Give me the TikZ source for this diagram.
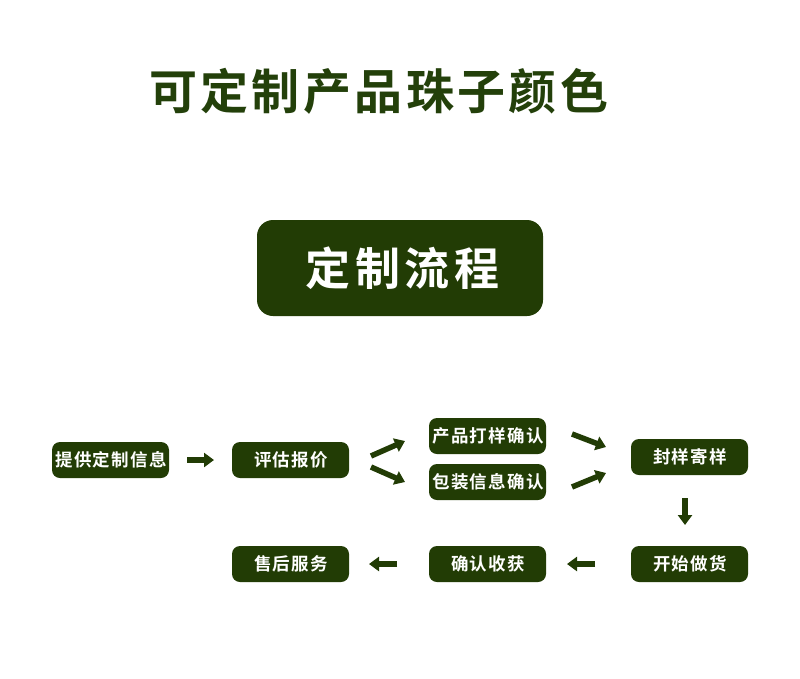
\documentclass[tikz,border=0pt]{standalone}
\usepackage{fontspec}
\newfontfamily\cjktitle[LetterSpace=7]{Noto Sans CJK SC Bold}
\newfontfamily\cjkmain[LetterSpace=11]{Noto Sans CJK SC Bold}
\newfontfamily\cjkbox[LetterSpace=7]{Noto Sans CJK SC Bold}
\usetikzlibrary{arrows.meta}
\definecolor{dgreen}{HTML}{223C05}
\definecolor{tgreen}{HTML}{23400A}
\begin{document}
\begin{tikzpicture}[x=1pt,y=-1pt,
  stepbox/.style={fill=dgreen, rounded corners=8pt, minimum width=117pt, minimum height=36pt, inner sep=0pt, text=white, font=\cjkbox\fontsize{17.5}{20}\selectfont, execute at begin node=\hspace{1.2pt}},
  blockarrow/.style={draw=dgreen, line width=5.5pt, -{Triangle[length=10pt, width=14pt]}}
]
\useasboundingbox (0,0) rectangle (800,678);
\fill[white] (0,0) rectangle (800,678);
\node[text=tgreen, font=\cjktitle\fontsize{48}{54}\selectfont] (title) at (377,91) {\hspace{3.4pt}可定制产品珠子颜色};
\node[fill=dgreen, rounded corners=16pt, minimum width=286pt, minimum height=96pt, inner sep=0pt, text=white, font=\cjkmain\fontsize{45}{50}\selectfont] (flow) at (400,268) {\hspace{5pt}定制流程};

\node[stepbox] (s1) at (110.5,460) {提供定制信息};
\node[stepbox] (s2) at (290.5,460) {评估报价};
\node[stepbox] (s3) at (487.5,436) {产品打样确认};
\node[stepbox] (s4) at (487.5,482) {包装信息确认};
\node[stepbox] (s5) at (689.5,457) {封样寄样};
\node[stepbox] (s6) at (689.5,564) {开始做货};
\node[stepbox] (s7) at (487.5,564) {确认收获};
\node[stepbox] (s8) at (290.5,564) {售后服务};

\coordinate (a1s) at (187,460); \coordinate (a1e) at (214,460);
\coordinate (a2s) at (371,456); \coordinate (a2e) at (405,441);
\coordinate (a3s) at (371,467); \coordinate (a3e) at (405,482);
\coordinate (a4s) at (572,434); \coordinate (a4e) at (606,447);
\coordinate (a5s) at (572,487); \coordinate (a5e) at (606,473);
\coordinate (a6s) at (685,498); \coordinate (a6e) at (685,525);
\coordinate (a7s) at (595,564); \coordinate (a7e) at (567,564);
\coordinate (a8s) at (397,564); \coordinate (a8e) at (369,564);

\foreach \i in {1,...,8} {\draw[blockarrow] (a\i s) -- (a\i e);}
\end{tikzpicture}
\end{document}
